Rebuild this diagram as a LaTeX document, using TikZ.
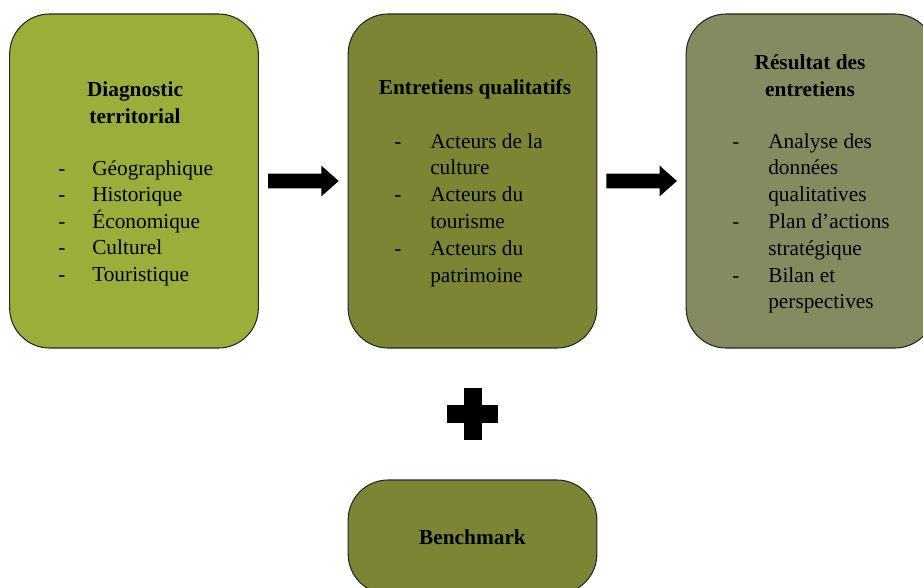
\documentclass[tikz,border=0pt]{standalone}
\usepackage{xcolor}
\usepackage{fontspec}
\setmainfont{Liberation Serif}
\usepackage{tikz}
\usetikzlibrary{positioning, calc, shapes.arrows}
\definecolor{olivelight}{RGB}{155,174,57}
\definecolor{olivemid}{RGB}{123,133,52}
\definecolor{olivegrey}{RGB}{133,138,96}
\tikzstyle{block} = [rectangle, rounded corners=30pt, draw=black!85, line width=0.8pt, minimum width=186.5pt, minimum height=250.5pt]
\tikzstyle{title} = [font=\fontsize{16}{20}\selectfont\bfseries, align=center]
\tikzstyle{item} = [font=\fontsize{16}{20}\selectfont, inner sep=0pt]
\tikzstyle{flow} = [single arrow, fill=black, inner xsep=0pt, inner ysep=5.25pt, minimum height=53pt, single arrow head extend=6pt, single arrow tip angle=83, xshift=-3pt]

\begin{document}
\begin{tikzpicture}[x=0.75pt, y=-0.75pt]
    \useasboundingbox (0,0) rectangle (923,588);
    \clip (0,0) rectangle (923,588);
    % the three steps
    \node[block, fill=olivelight] (diag) at (134,181) {};
    \node[block, fill=olivemid] (entr) at (472.5,181) {};
    \node[block, fill=olivegrey] (res) at (810.5,181) {};
    \node[block, fill=olivemid, minimum height=85.5pt] (bench) at (472.5,537) {};

    \node[title] at (135,102.5) {Diagnostic\\territorial};
    \node[title] at (475,89) {Entretiens qualitatifs};
    \node[title] at (810,75.5) {Résultat des\\entretiens};
    \node[title] at (472.5,537) {Benchmark};

    % lists
    \foreach \t [count=\i] in {Géographique, Historique, Économique, Culturel, Touristique}{
        \node[item, anchor=base] at (62,175+26.5*\i-26.5) {-};
        \node[item, anchor=base west] at (92,175+26.5*\i-26.5) {\t};
    }
    \foreach \t [count=\i] in {Acteurs de la, culture, Acteurs du, tourisme, Acteurs du, patrimoine}
        \node[item, anchor=base west] at (430,148+26.8*\i-26.8) {\t};
    \foreach \i in {1,3,5}
        \node[item, anchor=base] at (398,148+26.8*\i-26.8) {-};
    \foreach \t [count=\i] in {Analyse des, données, qualitatives, Plan d’actions, stratégique, Bilan et, perspectives}
        \node[item, anchor=base west] at (768,148+26.8*\i-26.8) {\t};
    \foreach \i in {1,4,6}
        \node[item, anchor=base] at (736,148+26.8*\i-26.8) {-};

    % arrows and plus
    \node[flow] (a1) at ($(diag.east)!0.5!(entr.west)$) {};
    \node[flow] (a2) at ($(entr.east)!0.5!(res.west)$) {};
    \node[fill=black, inner sep=0pt, minimum width=38.25pt, minimum height=13.5pt] (plush) at (472.5,414) {};
    \node[fill=black, inner sep=0pt, minimum width=13.5pt, minimum height=39pt] (plusv) at (plush) {};
\end{tikzpicture}
\end{document}
